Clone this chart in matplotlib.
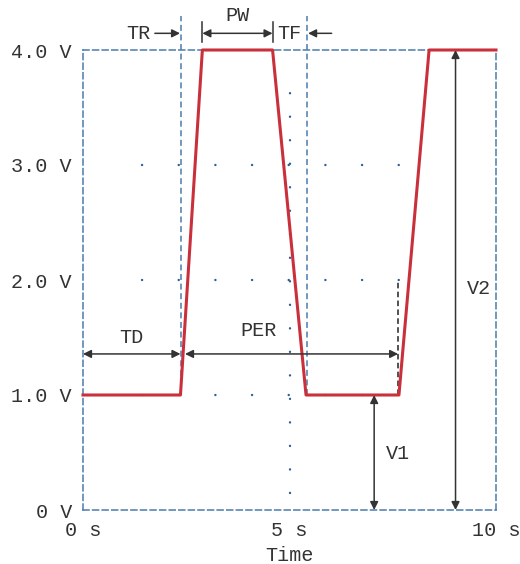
"""Pulse source timing diagram: TD / TR / PW / TF / PER / V1 / V2."""

import matplotlib

matplotlib.use("Agg")
import matplotlib.pyplot as plt

# pulse waveform (time in s, level in V)
pulse_t = [0, 2.36, 2.89, 4.59, 5.40, 7.65, 8.38, 10]
pulse_v = [1, 1, 4, 4, 1, 1, 4, 4]

x_ticks = [0, 5, 10]
x_tick_labels = ["0 s", "5 s", "10 s"]
y_ticks = [0, 1, 2, 3, 4]
y_tick_labels = ["0 V", "1.0 V", "2.0 V", "3.0 V", "4.0 V"]

# dotted guide rows / column
dot_rows = [1, 2, 3]
dot_row_span = [1.43, 7.67]
dot_col_t = 5
dot_col_span = [0.15, 3.81]

# dashed markers
td, fall_end, per_end = 2.37, 5.42, 7.63
marker_top = 4.30

# annotation positions
v1_t, v2_t = 7.05, 9.02
row_y = 4.145          # TR / PW / TF arrows
span_y = 1.357         # TD / PER arrows

BLUE = "#4a7cae"
DOT = "#2b5f94"
RED = "#c9303c"
INK = "#333333"
FONT = ["Liberation Mono", "DejaVu Sans Mono"]
FS = 14.5

plt.rcParams["lines.scale_dashes"] = False

fig = plt.figure(figsize=(5.2, 5.64), dpi=100)
ax = fig.add_axes([83 / 520, 54 / 564, 413 / 520, 460 / 564])
ax.set_xlim(0, 10)
ax.set_ylim(0, 4)

for s in ax.spines.values():
    s.set_linestyle((0, (4.3, 2.6)))
    s.set_color(BLUE)
    s.set_linewidth(1.1)

ax.set_xticks(x_ticks)
ax.set_xticklabels(x_tick_labels)
ax.set_yticks(y_ticks)
ax.set_yticklabels(y_tick_labels)
ax.tick_params(length=0, colors=INK, labelsize=FS)
ax.tick_params(axis="y", pad=8)
ax.tick_params(axis="x", pad=8)
for lab in ax.get_xticklabels() + ax.get_yticklabels():
    lab.set_family(FONT)
ax.set_xlabel("Time", family=FONT, fontsize=FS, color=INK, labelpad=4)

# dotted guides
for lvl in dot_rows:
    ax.plot(dot_row_span, [lvl, lvl], color=DOT, lw=1.7,
            linestyle=(0, (0.1, 26.3)), dash_capstyle="round", zorder=1)
ax.plot([dot_col_t, dot_col_t], dot_col_span, color=DOT, lw=1.7,
        linestyle=(0, (0.1, 16.83)), dash_capstyle="round", zorder=1)

# dashed vertical markers (above the plot area too)
for t in (td, fall_end):
    ax.plot([t, t], [1, marker_top], color=BLUE, lw=1.1,
            linestyle=(0, (4.3, 2.6)), clip_on=False, zorder=1)
ax.plot([per_end, per_end], [1, 2], color="#222222", lw=1.1,
        linestyle=(0, (4.0, 2.4)), zorder=1)

# the pulse
ax.plot(pulse_t, pulse_v, color=RED, lw=2.2, zorder=3, clip_on=False)


def arrow(x0, y0, x1, y1, style="<|-|>"):
    ax.annotate("", xy=(x1, y1), xytext=(x0, y0),
                arrowprops=dict(arrowstyle=style, color=INK, lw=1.1,
                                shrinkA=0, shrinkB=0, mutation_scale=12),
                annotation_clip=False, zorder=4)


def label(x, y, s):
    ax.text(x, y, s, family=FONT, fontsize=FS, color=INK,
            ha="center", va="center", clip_on=False)


# TR / PW / TF
arrow(1.74, row_y, 2.35, row_y, "-|>")
label(1.33, row_y, "TR")
arrow(pulse_t[2], row_y, pulse_t[3], row_y)
for t in (pulse_t[2], pulse_t[3]):
    ax.plot([t, t], [4.07, 4.24], color=INK, lw=1.1, clip_on=False)
label(3.73, 4.30, "PW")
arrow(6.02, row_y, 5.45, row_y, "-|>")
label(5.0, row_y, "TF")

# TD / PER
arrow(0, span_y, 2.36, span_y)
label(1.16, 1.50, "TD")
arrow(2.47, span_y, per_end, span_y)
label(4.26, 1.56, "PER")

# V1 / V2
arrow(v1_t, 0, v1_t, 1)
label(7.63, 0.49, "V1")
arrow(v2_t, 0, v2_t, 4)
label(9.59, 1.93, "V2")

fig.savefig("out.png", dpi=100)
